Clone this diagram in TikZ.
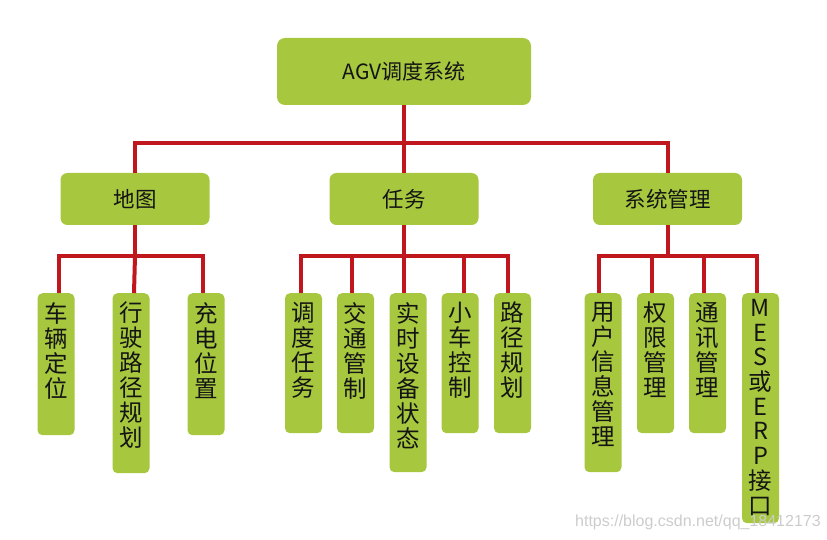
\documentclass[tikz,border=0pt]{standalone}
\usepackage{fontspec}
\newfontfamily\cjk{Noto Sans CJK SC}
\setmainfont{Liberation Sans}
\definecolor{boxgreen}{RGB}{166,199,62}
\definecolor{linered}{RGB}{192,22,30}
\definecolor{txt}{RGB}{20,20,20}
\tikzset{
  rootbox/.style={fill=boxgreen, rounded corners=8pt, minimum width=254pt, minimum height=67pt, inner sep=0pt, text=txt, font=\cjk\fontsize{21}{24}\selectfont},
  midbox/.style={fill=boxgreen, rounded corners=7pt, minimum width=149pt, minimum height=52pt, inner sep=0pt, text=txt, font=\cjk\fontsize{21.5}{24}\selectfont},
  leafbox/.style={fill=boxgreen, rounded corners=5pt, minimum width=37pt, inner sep=0pt, anchor=north},
  leaftext/.style={inner sep=0pt, anchor=north, align=center, text=txt, font=\cjk\fontsize{23.5}{25}\selectfont},
  conn/.style={draw=linered, line width=4pt},
  wm/.style={inner sep=0pt, text=gray!40, font=\fontsize{16}{18}\selectfont}
}
\begin{document}
\begin{tikzpicture}[x=1pt,y=-1pt]
\useasboundingbox (0,0) rectangle (827,540);
% boxes
\node[rootbox] (root) at (404,71.5) {AGV调度系统};
\node[midbox] (m1) at (135,199) {地图};
\node[midbox] (m2) at (404,199) {任务};
\node[midbox] (m3) at (667.5,199) {系统管理};
% leaves of 地图
\node[leafbox, minimum height=142pt] (a1) at (56,293) {};
\node[leafbox, minimum height=180pt] (a2) at (131,293) {};
\node[leafbox, minimum height=142pt] (a3) at (206,293) {};
% leaves of 任务
\node[leafbox, minimum height=140pt] (b1) at (303.5,293) {};
\node[leafbox, minimum height=140pt] (b2) at (355.5,293) {};
\node[leafbox, minimum height=179pt] (b3) at (408,293) {};
\node[leafbox, minimum height=140pt] (b4) at (460,293) {};
\node[leafbox, minimum height=140pt] (b5) at (512.5,293) {};
% leaves of 系统管理
\node[leafbox, minimum height=179pt] (c1) at (603,293) {};
\node[leafbox, minimum height=140pt] (c2) at (655.5,293) {};
\node[leafbox, minimum height=140pt] (c3) at (707.5,293) {};
\node[leafbox, minimum height=230pt] (c4) at (760.5,293) {};
% leaf texts
\node[leaftext] (ta1) at ([yshift=-9pt]a1.north) {车\\辆\\定\\位};
\node[leaftext] (ta2) at ([yshift=-9pt]a2.north) {行\\驶\\路\\径\\规\\划};
\node[leaftext] (ta3) at ([yshift=-9pt]a3.north) {充\\电\\位\\置};
\node[leaftext] (tb1) at ([yshift=-9pt]b1.north) {调\\度\\任\\务};
\node[leaftext] (tb2) at ([yshift=-9pt]b2.north) {交\\通\\管\\制};
\node[leaftext] (tb3) at ([yshift=-9pt]b3.north) {实\\时\\设\\备\\状\\态};
\node[leaftext] (tb4) at ([yshift=-9pt]b4.north) {小\\车\\控\\制};
\node[leaftext] (tb5) at ([yshift=-9pt]b5.north) {路\\径\\规\\划};
\node[leaftext] (tc1) at ([yshift=-9pt]c1.north) {用\\户\\信\\息\\管\\理};
\node[leaftext] (tc2) at ([yshift=-9pt]c2.north) {权\\限\\管\\理};
\node[leaftext] (tc3) at ([yshift=-9pt]c3.north) {通\\讯\\管\\理};
\node[leaftext, font=\cjk\fontsize{23.5}{24.7}\selectfont] (tc4) at ([yshift=-6pt]c4.north) {M\\E\\S\\或\\E\\R\\P\\接\\口};
% connectors
\coordinate (bus0) at (404,143);
\draw[conn] (root.south) -- (bus0);
\draw[conn] (m1.north) |- (bus0) -| (m3.north);
\draw[conn] (bus0) -- (m2.north);
\coordinate (busA) at (135,256);
\draw[conn] (m1.south) -- (busA);
\draw[conn] ([xshift=3pt]a1.north) |- (busA) -| ([xshift=-3pt]a3.north);
\draw[conn] (busA) -- ([xshift=3pt]a2.north);
\coordinate (busB) at (404,256);
\draw[conn] (m2.south) -- (busB);
\draw[conn] ([xshift=-2.5pt]b1.north) |- (busB) -| ([xshift=-4.5pt]b5.north);
\draw[conn] ([xshift=-3.5pt]b2.north) |- (busB);
\draw[conn] ([xshift=4pt]b4.north) |- (busB);
\draw[conn] (busB) -- ([xshift=-4pt]b3.north);
\coordinate (busC) at (667.5,256);
\draw[conn] (m3.south) -- (busC);
\draw[conn] ([xshift=-4pt]c1.north) |- (busC) -| ([xshift=-3.5pt]c4.north);
\draw[conn] ([xshift=-3.5pt]c2.north) |- (busC);
\draw[conn] ([xshift=-3.5pt]c3.north) |- (busC);
% watermark
\node[wm, anchor=west] (wmark) at (575,522) {https://blog.csdn.net/qq\_18412173};
\end{tikzpicture}
\end{document}
